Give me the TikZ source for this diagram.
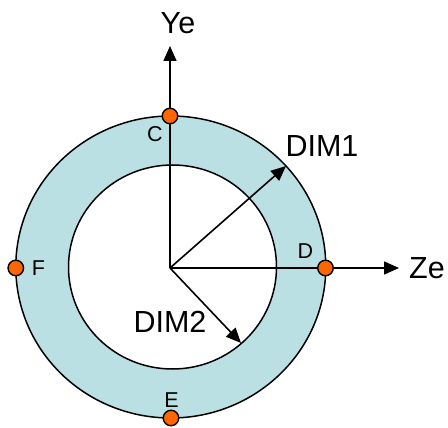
\documentclass[tikz,border=0pt]{standalone}
\usepackage{fontspec}
\setmainfont{Liberation Sans}
\usetikzlibrary{arrows.meta}
\definecolor{ringblue}{HTML}{BBE0E3}
\definecolor{dotorange}{HTML}{FF6600}
\tikzset{
  ax/.style={line width=1.6pt,-{Triangle[length=15pt,width=13pt]}},
  dimarrow/.style={line width=1.6pt,-{Triangle[length=15pt,width=13pt]}},
  dot/.style={circle,draw=black,line width=1.4pt,fill=dotorange,minimum size=15.5pt,inner sep=0pt},
  biglabel/.style={font=\fontsize{30.5}{31}\selectfont,inner sep=0pt},
  smalllabel/.style={font=\fontsize{21.5}{22}\selectfont,inner sep=0pt}
}
\begin{document}
\begin{tikzpicture}[x=1pt,y=-1pt]
\useasboundingbox (0,0) rectangle (448,428);
% ring
\fill[ringblue,even odd rule] (170.8,267) ellipse [x radius=155,y radius=151]
  (172.5,267) ellipse [x radius=104,y radius=102];
\draw[line width=1.5pt] (170.8,267) ellipse [x radius=155,y radius=151];
\draw[line width=1.5pt] (172.5,267) ellipse [x radius=104,y radius=102];
% points
\coordinate (O) at (170,268);
\coordinate (Ytip) at (170,46);
\coordinate (Ztip) at (399,268);
\coordinate (D1tip) at (286,166);
\coordinate (D2tip) at (241,343);
\draw[ax] (O) -- (Ytip);
\draw[ax] (O) -- (Ztip);
\draw[dimarrow] (O) -- (D1tip);
\draw[dimarrow] (O) -- (D2tip);
\node[dot] (C) at (170,116) {};
\node[dot] (D) at (325.5,268) {};
\node[dot] (E) at (171,418) {};
\node[dot] (F) at (15.8,268) {};
% labels
\node[biglabel] (Ye) at (178,23) {Ye};
\node[biglabel] (Ze) at (427,268) {Ze};
\node[biglabel] (DIM1) at (322,146) {DIM1};
\node[biglabel] (DIM2) at (170,322) {DIM2};
\node[smalllabel] (Cl) at (155,134.5) {C};
\node[smalllabel] (Dl) at (305.5,251) {D};
\node[smalllabel] (El) at (171.5,400) {E};
\node[smalllabel] (Fl) at (38.5,268.5) {F};
\end{tikzpicture}
\end{document}
